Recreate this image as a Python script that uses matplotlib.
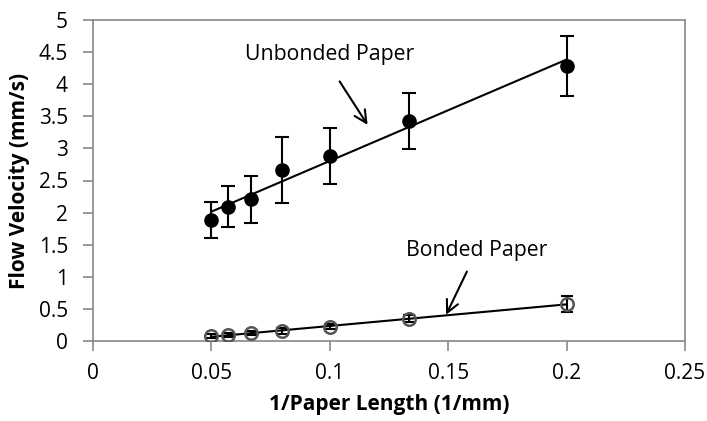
import matplotlib
matplotlib.use("Agg")
import matplotlib.pyplot as plt
import numpy as np

plt.rcParams['font.family'] = ['Open Sans', 'DejaVu Sans']

x = [0.05, 1/17.5, 1/15, 0.08, 0.1, 1/7.5, 0.2]
unbonded = [1.885, 2.09, 2.205, 2.66, 2.88, 3.43, 4.28]
unbonded_err = [0.28, 0.32, 0.36, 0.51, 0.44, 0.44, 0.47]
bonded = [0.075, 0.095, 0.125, 0.155, 0.22, 0.35, 0.575]
bonded_err = [0.03, 0.03, 0.03, 0.04, 0.04, 0.05, 0.13]

xticks = [0, 0.05, 0.1, 0.15, 0.2, 0.25]
xticklabels = ["0", "0.05", "0.1", "0.15", "0.2", "0.25"]
yticks = [0, 0.5, 1, 1.5, 2, 2.5, 3, 3.5, 4, 4.5, 5]
yticklabels = ["0", "0.5", "1", "1.5", "2", "2.5", "3", "3.5", "4", "4.5", "5"]

fig = plt.figure(figsize=(7.07, 4.21), dpi=100)
ax = fig.add_axes([93/707, 80/421, (685-93)/707, (341-20)/421])

xa = np.array(x)
# trendlines
for ys in (unbonded, bonded):
    p = np.polyfit(xa, np.array(ys), 1)
    xx = np.array([min(x), max(x)])
    ax.plot(xx, np.polyval(p, xx), color='black', lw=1.5, zorder=2)

ax.errorbar(x, unbonded, yerr=unbonded_err, fmt='o', color='black', ms=9.5,
            mfc='black', mec='black', ecolor='black', elinewidth=1.5,
            capsize=5, capthick=1.5, zorder=3)
ax.errorbar(x, bonded, yerr=bonded_err, fmt='none', ecolor='black',
            elinewidth=1.5, capsize=4, capthick=1.5, zorder=3)
ax.plot(x, bonded, 'o', ms=9, mfc='none', mec='#555555', mew=1.8, zorder=4)

ax.set_xlim(0, 0.25)
ax.set_ylim(0, 5)
ax.set_xticks(xticks)
ax.set_xticklabels(xticklabels)
ax.set_yticks(yticks)
ax.set_yticklabels(yticklabels)
ax.tick_params(axis='both', direction='out', length=7, width=1.2,
               color='#888888', labelsize=15, labelcolor='black')
ax.tick_params(axis='x', pad=9)
ax.tick_params(axis='y', pad=11)
for s in ax.spines.values():
    s.set_color('#888888')
    s.set_linewidth(1.2)

ax.set_xlabel("1/Paper Length (1/mm)", fontsize=15, fontweight='bold', labelpad=7)
ax.set_ylabel("Flow Velocity (mm/s)", fontsize=15, fontweight='bold', labelpad=6)

ax.text(0.0643, 4.47, "Unbonded Paper", fontsize=15.3, va='center', ha='left')
ax.annotate("", xy=(0.1166, 3.33), xytext=(0.1035, 4.08),
            arrowprops=dict(arrowstyle='->', color='black', lw=1.5,
                            mutation_scale=22))
ax.text(0.1322, 1.405, "Bonded Paper", fontsize=15.3, va='center', ha='left')
ax.annotate("", xy=(0.1486, 0.37), xytext=(0.1584, 1.12),
            arrowprops=dict(arrowstyle='->', color='black', lw=1.5,
                            mutation_scale=22))

fig.savefig("out.png", dpi=100)
